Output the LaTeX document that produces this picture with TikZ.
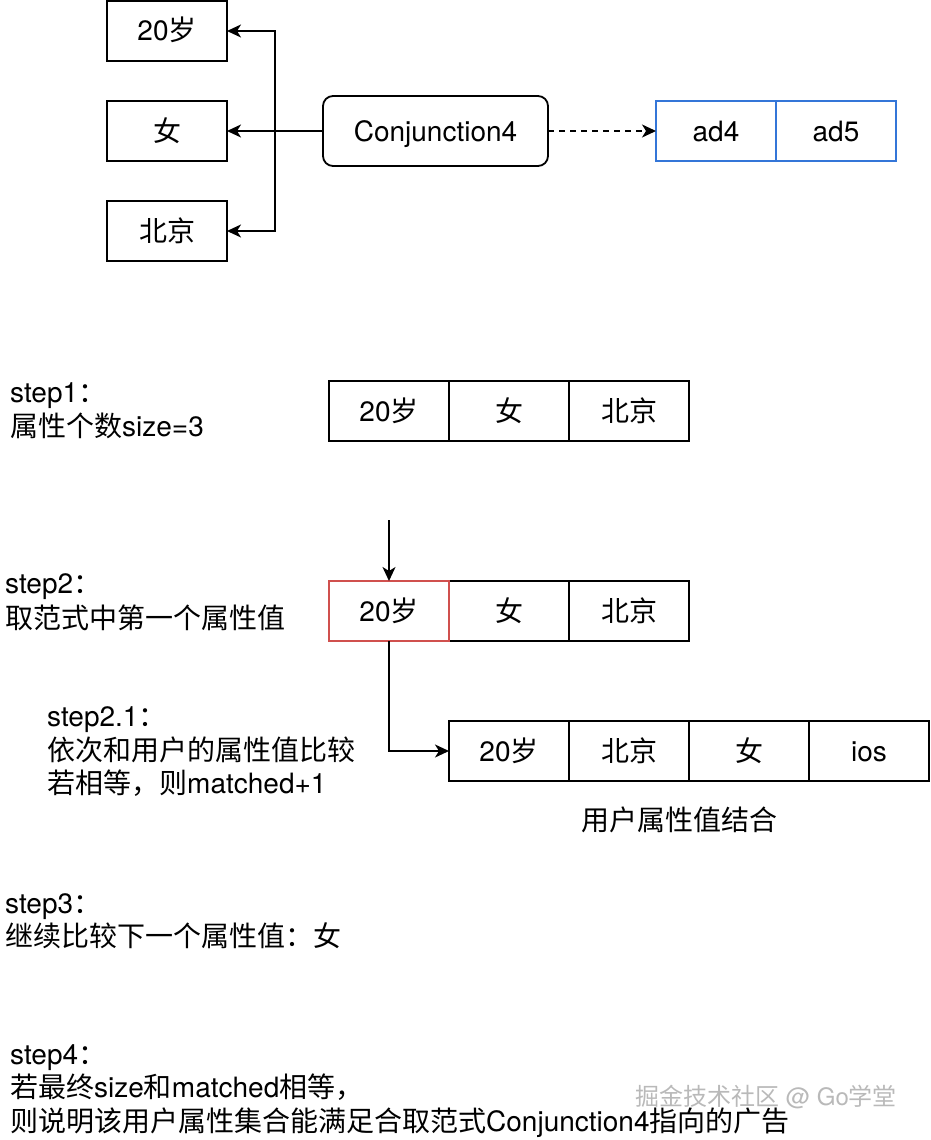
\documentclass[tikz,border=0pt]{standalone}
\usepackage{fontspec}
\setmainfont{TeX Gyre Heros}
\newfontfamily\cjk{Noto Sans CJK SC}
\newcommand\zh[1]{{\cjk #1}}
\usetikzlibrary{arrows.meta}
\definecolor{boxred}{RGB}{208,80,78}
\definecolor{boxblue}{RGB}{52,118,216}
\definecolor{wmgray}{RGB}{185,185,185}
\begin{document}
\begin{tikzpicture}[x=1pt,y=-1pt,
  every node/.style={font=\fontsize{28}{34}\selectfont},
  cell/.style={draw, line width=1.8pt, minimum width=120pt, minimum height=60pt, inner sep=0pt, outer sep=0pt, text height=22pt, text depth=2pt, anchor=north west},
  redcell/.style={cell, draw=boxred},
  bluecell/.style={cell, draw=boxblue},
  roundbox/.style={draw, line width=1.8pt, rounded corners=10pt, minimum width=225pt, minimum height=70pt, inner sep=0pt, outer sep=0pt, text height=22pt, text depth=2pt},
  txt/.style={anchor=base west, inner sep=0pt},
  ctxt/.style={anchor=base, inner sep=0pt},
  arr/.style={line width=1.8pt, -{Stealth[length=14pt,width=13pt,inset=4pt]}},
  dashline/.style={arr, dash pattern=on 6pt off 5pt},
  wm/.style={anchor=base, inner sep=0pt, text=wmgray, font=\fontsize{24}{28}\selectfont}]
\useasboundingbox (0,0) rectangle (930,1140);

% top part
\node[cell] (b1) at (107,1) {20\zh{岁}};
\node[cell] (b2) at (107,101) {\zh{女}};
\node[cell] (b3) at (107,201) {\zh{北京}};
\node[roundbox] (conj) at (435.5,131) {Conjunction4};
\node[bluecell] (ad4) at (656,101) {ad4};
\node[bluecell] (ad5) at (776,101) {ad5};
\coordinate (jn) at (275,131);
\draw[arr] (conj.west) -- (b2.east);
\draw[arr] (jn) |- (b1.east);
\draw[arr] (jn) |- (b3.east);
\draw[dashline] (conj.east) -- (ad4.west);

% step1
\node[txt] (s1a) at (10,402) {step1\zh{：}};
\node[txt] (s1b) at (10,436) {\zh{属性个数}size=3};
\node[cell] (r1a) at (329,381) {20\zh{岁}};
\node[cell] (r1b) at (449,381) {\zh{女}};
\node[cell] (r1c) at (569,381) {\zh{北京}};

% step2
\coordinate (top) at (389,520);
\node[txt] (s2a) at (5,593) {step2\zh{：}};
\node[txt] (s2b) at (5,628) {\zh{取范式中第一个属性值}};
\node[cell] (r2b) at (449,581) {\zh{女}};
\node[cell] (r2c) at (569,581) {\zh{北京}};
\node[redcell] (r2a) at (329,581) {20\zh{岁}};
\draw[arr] (top) -- (r2a.north);

% step2.1
\node[txt] (s21a) at (47,726) {step2.1\zh{：}};
\node[txt] (s21b) at (47,760) {\zh{依次和用户的属性值比较}};
\node[txt] (s21c) at (47,793) {\zh{若相等，则}matched+1};
\node[cell] (r3a) at (449,721) {20\zh{岁}};
\node[cell] (r3b) at (569,721) {\zh{北京}};
\node[cell] (r3c) at (689,721) {\zh{女}};
\node[cell] (r3d) at (809,721) {ios};
\draw[arr] (r2a.south) |- (r3a.west);
\node[ctxt] (lbl) at (679,830) {\zh{用户属性值结合}};

% step3
\node[txt] (s3a) at (5,913) {step3\zh{：}};
\node[txt] (s3b) at (5,946) {\zh{继续比较下一个属性值：女}};

% step4
\node[txt] (s4a) at (10,1064) {step4\zh{：}};
\node[txt] (s4b) at (10,1097) {\zh{若最终}size\zh{和}matched\zh{相等，}};
\node[txt] (s4c) at (10,1131) {\zh{则说明该用户属性集合能满足合取范式}Conjunction4\zh{指向的广告}};

% watermark
\node[wm] (wmark) at (766,1105) {\zh{掘金技术社区} @ Go\zh{学堂}};
\end{tikzpicture}
\end{document}
